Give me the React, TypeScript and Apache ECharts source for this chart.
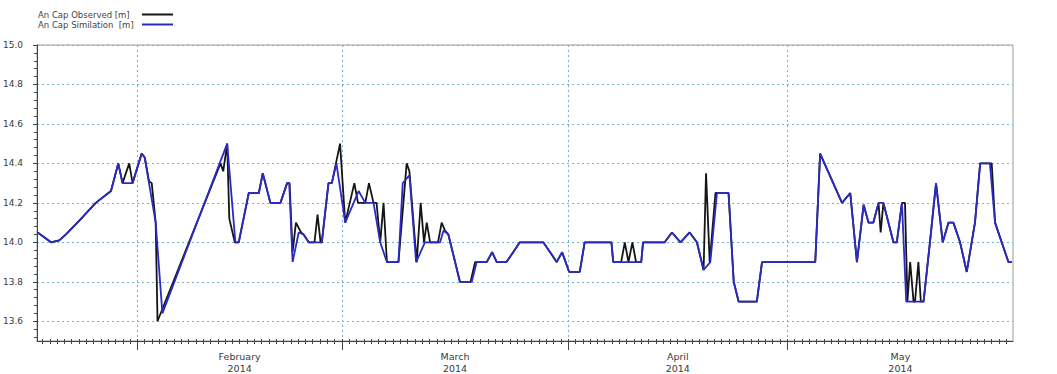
import React, { useEffect, useRef } from 'react';
import * as echarts from 'echarts';

// Water level at An Cap station, observed vs. simulated (metres)
const seriesNames = ['An Cap Observed [m]', 'An Cap Similation  [m]'];

const observed: [string, number][] = [
  ['2014-01-18 08:00', 14.05], ['2014-01-20 04:00', 14.0], ['2014-01-21 07:00', 14.01],
  ['2014-01-22 05:00', 14.04], ['2014-01-24 01:00', 14.11], ['2014-01-26 07:00', 14.2],
  ['2014-01-28 09:00', 14.26], ['2014-01-29 09:00', 14.4], ['2014-01-29 23:00', 14.3],
  ['2014-01-30 21:00', 14.4], ['2014-01-31 08:00', 14.3], ['2014-02-01 14:00', 14.45],
  ['2014-02-02 00:00', 14.43], ['2014-02-02 14:00', 14.31], ['2014-02-02 23:00', 14.3],
  ['2014-02-03 12:00', 14.1], ['2014-02-03 18:00', 13.6], ['2014-02-12 09:00', 14.4],
  ['2014-02-12 18:00', 14.36], ['2014-02-13 07:00', 14.5], ['2014-02-13 14:00', 14.12],
  ['2014-02-14 08:00', 14.0], ['2014-02-14 21:00', 14.0], ['2014-02-16 06:00', 14.25],
  ['2014-02-17 15:00', 14.25], ['2014-02-18 04:00', 14.35], ['2014-02-19 05:00', 14.2],
  ['2014-02-20 14:00', 14.2], ['2014-02-21 12:00', 14.3], ['2014-02-21 20:00', 14.3],
  ['2014-02-22 06:00', 13.95], ['2014-02-22 17:00', 14.1], ['2014-02-23 10:00', 14.05],
  ['2014-02-23 18:00', 14.04], ['2014-02-24 11:00', 14.0], ['2014-02-25 06:00', 14.0],
  ['2014-02-25 16:00', 14.14], ['2014-02-26 02:00', 14.0], ['2014-02-26 06:00', 14.0],
  ['2014-02-27 04:00', 14.3], ['2014-02-27 15:00', 14.3], ['2014-02-28 18:00', 14.5],
  ['2014-03-01 11:00', 14.1], ['2014-03-02 17:00', 14.3], ['2014-03-03 05:00', 14.2],
  ['2014-03-04 05:00', 14.2], ['2014-03-04 17:00', 14.3], ['2014-03-05 08:00', 14.2],
  ['2014-03-05 18:00', 14.2], ['2014-03-06 06:00', 14.0], ['2014-03-06 17:00', 14.2],
  ['2014-03-07 04:00', 13.9], ['2014-03-08 18:00', 13.9], ['2014-03-09 21:00', 14.4],
  ['2014-03-10 06:00', 14.36], ['2014-03-11 06:00', 13.9], ['2014-03-11 19:00', 14.2],
  ['2014-03-12 06:00', 14.0], ['2014-03-12 15:00', 14.1], ['2014-03-13 02:00', 14.0],
  ['2014-03-14 04:00', 14.0], ['2014-03-14 16:00', 14.1], ['2014-03-15 03:00', 14.06],
  ['2014-03-15 14:00', 14.04], ['2014-03-17 04:00', 13.8], ['2014-03-18 15:00', 13.8],
  ['2014-03-19 06:00', 13.9], ['2014-03-20 20:00', 13.9], ['2014-03-21 14:00', 13.95],
  ['2014-03-22 05:00', 13.9], ['2014-03-23 13:00', 13.9], ['2014-03-24 11:00', 13.95],
  ['2014-03-25 09:00', 14.0], ['2014-03-28 14:00', 14.0], ['2014-03-29 17:00', 13.94],
  ['2014-03-30 10:00', 13.9], ['2014-03-31 04:00', 13.95], ['2014-04-01 03:00', 13.85],
  ['2014-04-02 14:00', 13.85], ['2014-04-03 06:00', 14.0], ['2014-04-06 22:00', 14.0],
  ['2014-04-07 04:00', 13.9], ['2014-04-08 06:00', 13.9], ['2014-04-08 18:00', 14.0],
  ['2014-04-09 06:00', 13.9], ['2014-04-09 19:00', 14.0], ['2014-04-10 07:00', 13.9],
  ['2014-04-11 00:00', 13.9], ['2014-04-11 06:00', 14.0], ['2014-04-14 05:00', 14.0],
  ['2014-04-15 05:00', 14.05], ['2014-04-16 09:00', 14.0], ['2014-04-17 15:00', 14.05],
  ['2014-04-18 15:00', 14.0], ['2014-04-19 13:00', 13.86], ['2014-04-19 21:00', 14.35],
  ['2014-04-20 09:00', 13.9], ['2014-04-21 04:00', 14.25], ['2014-04-22 23:00', 14.25],
  ['2014-04-23 16:00', 13.8], ['2014-04-24 08:00', 13.7], ['2014-04-26 20:00', 13.7],
  ['2014-04-27 13:00', 13.9], ['2014-05-04 20:00', 13.9], ['2014-05-05 12:00', 14.45],
  ['2014-05-08 12:00', 14.2], ['2014-05-09 15:00', 14.25], ['2014-05-10 13:00', 13.9],
  ['2014-05-11 11:00', 14.19], ['2014-05-12 03:00', 14.1], ['2014-05-12 19:00', 14.1],
  ['2014-05-13 12:00', 14.2], ['2014-05-13 19:00', 14.05], ['2014-05-14 04:00', 14.2],
  ['2014-05-15 13:00', 14.0], ['2014-05-16 00:00', 14.0], ['2014-05-16 17:00', 14.2],
  ['2014-05-17 03:00', 14.2], ['2014-05-17 11:00', 13.7], ['2014-05-17 20:00', 13.9],
  ['2014-05-18 07:00', 13.7], ['2014-05-18 12:00', 13.7], ['2014-05-18 23:00', 13.9],
  ['2014-05-19 07:00', 13.7], ['2014-05-19 16:00', 13.7], ['2014-05-20 13:00', 14.0],
  ['2014-05-21 09:00', 14.3], ['2014-05-22 07:00', 14.0], ['2014-05-23 02:00', 14.1],
  ['2014-05-23 18:00', 14.1], ['2014-05-24 16:00', 14.0], ['2014-05-25 14:00', 13.85],
  ['2014-05-26 17:00', 14.1], ['2014-05-27 10:00', 14.4], ['2014-05-29 00:00', 14.4],
  ['2014-05-29 11:00', 14.1], ['2014-05-31 07:00', 13.9], ['2014-05-31 18:00', 13.9],
];

const simulation: [string, number][] = [
  ['2014-01-18 08:00', 14.05], ['2014-01-20 04:00', 14.0], ['2014-01-21 07:00', 14.01],
  ['2014-01-22 05:00', 14.04], ['2014-01-24 01:00', 14.11], ['2014-01-26 07:00', 14.2],
  ['2014-01-28 09:00', 14.26], ['2014-01-29 09:00', 14.4], ['2014-01-29 23:00', 14.3],
  ['2014-01-31 08:00', 14.3], ['2014-02-01 14:00', 14.45], ['2014-02-02 00:00', 14.43],
  ['2014-02-02 14:00', 14.3], ['2014-02-03 12:00', 14.1], ['2014-02-04 10:00', 13.64],
  ['2014-02-13 07:00', 14.5], ['2014-02-14 10:00', 14.0], ['2014-02-14 21:00', 14.0],
  ['2014-02-16 06:00', 14.25], ['2014-02-17 15:00', 14.25], ['2014-02-18 04:00', 14.35],
  ['2014-02-19 05:00', 14.2], ['2014-02-20 14:00', 14.2], ['2014-02-21 12:00', 14.3],
  ['2014-02-21 19:00', 14.3], ['2014-02-22 06:00', 13.9], ['2014-02-23 02:00', 14.05],
  ['2014-02-23 18:00', 14.04], ['2014-02-24 11:00', 14.0], ['2014-02-26 06:00', 14.0],
  ['2014-02-27 04:00', 14.3], ['2014-02-27 15:00', 14.3], ['2014-02-28 06:00', 14.4],
  ['2014-03-01 11:00', 14.1], ['2014-03-03 07:00', 14.26], ['2014-03-04 05:00', 14.2],
  ['2014-03-05 08:00', 14.2], ['2014-03-06 06:00', 14.0], ['2014-03-07 04:00', 13.9],
  ['2014-03-08 18:00', 13.9], ['2014-03-09 08:00', 14.3], ['2014-03-10 06:00', 14.34],
  ['2014-03-11 04:00', 13.9], ['2014-03-12 09:00', 14.0], ['2014-03-14 11:00', 14.0],
  ['2014-03-14 22:00', 14.06], ['2014-03-15 14:00', 14.04], ['2014-03-17 04:00', 13.8],
  ['2014-03-18 19:00', 13.8], ['2014-03-19 11:00', 13.9], ['2014-03-20 20:00', 13.9],
  ['2014-03-21 14:00', 13.95], ['2014-03-22 05:00', 13.9], ['2014-03-23 13:00', 13.9],
  ['2014-03-24 11:00', 13.95], ['2014-03-25 09:00', 14.0], ['2014-03-28 14:00', 14.0],
  ['2014-03-29 17:00', 13.94], ['2014-03-30 10:00', 13.9], ['2014-03-31 04:00', 13.95],
  ['2014-04-01 03:00', 13.85], ['2014-04-02 14:00', 13.85], ['2014-04-03 06:00', 14.0],
  ['2014-04-06 22:00', 14.0], ['2014-04-07 04:00', 13.9], ['2014-04-11 00:00', 13.9],
  ['2014-04-11 06:00', 14.0], ['2014-04-14 05:00', 14.0], ['2014-04-15 05:00', 14.05],
  ['2014-04-16 09:00', 14.0], ['2014-04-17 15:00', 14.05], ['2014-04-18 15:00', 14.0],
  ['2014-04-19 13:00', 13.86], ['2014-04-20 11:00', 13.9], ['2014-04-21 09:00', 14.25],
  ['2014-04-22 23:00', 14.25], ['2014-04-23 16:00', 13.8], ['2014-04-24 08:00', 13.7],
  ['2014-04-26 20:00', 13.7], ['2014-04-27 13:00', 13.9], ['2014-05-04 20:00', 13.9],
  ['2014-05-05 12:00', 14.45], ['2014-05-08 12:00', 14.2], ['2014-05-09 15:00', 14.25],
  ['2014-05-10 13:00', 13.9], ['2014-05-11 11:00', 14.19], ['2014-05-12 03:00', 14.1],
  ['2014-05-12 19:00', 14.1], ['2014-05-13 12:00', 14.2], ['2014-05-14 04:00', 14.2],
  ['2014-05-15 13:00', 14.0], ['2014-05-16 00:00', 14.0], ['2014-05-16 17:00', 14.2],
  ['2014-05-17 07:00', 13.7], ['2014-05-19 16:00', 13.7], ['2014-05-20 13:00', 14.0],
  ['2014-05-21 09:00', 14.3], ['2014-05-22 07:00', 14.0], ['2014-05-23 02:00', 14.1],
  ['2014-05-23 18:00', 14.1], ['2014-05-24 16:00', 14.0], ['2014-05-25 14:00', 13.85],
  ['2014-05-26 17:00', 14.1], ['2014-05-27 10:00', 14.4], ['2014-05-28 18:00', 14.4],
  ['2014-05-29 11:00', 14.1], ['2014-05-31 07:00', 13.9], ['2014-05-31 18:00', 13.9],
];

// Axis ranges and tick labels
const timeMin = '2014-01-18 06:00';
const timeMax = '2014-05-31 22:00';
const levelMin = 13.5;
const levelMax = 15.0;
const levelTicks = [13.6, 13.8, 14.0, 14.2, 14.4, 14.6, 14.8, 15.0];
const levelMinorTicks = [
  13.52, 13.56, 13.64, 13.68, 13.72, 13.76, 13.84, 13.88, 13.92, 13.96, 14.04, 14.08, 14.12,
  14.16, 14.24, 14.28, 14.32, 14.36, 14.44, 14.48, 14.52, 14.56, 14.64, 14.68, 14.72, 14.76,
  14.84, 14.88, 14.92, 14.96,
];
const monthStarts = ['2014-02-01 00:00', '2014-03-01 00:00', '2014-04-01 00:00', '2014-05-01 00:00'];
const monthLabelTimes = ['2014-02-15 00:00', '2014-03-16 12:00', '2014-04-16 00:00', '2014-05-16 12:00'];
const monthLabels = ['February\n2014', 'March\n2014', 'April\n2014', 'May\n2014'];

const FONT = 'DejaVu Sans, Arial, sans-serif';
const GRID_COLOR = '#78b0cc';
const AXIS_COLOR = '#444';
const OBS_COLOR = '#151515';
const SIM_COLOR = '#2a2ac4';

// "YYYY-MM-DD HH:mm" in local time -> epoch milliseconds
function stamp(s: string): number {
  const [d, t] = s.split(' ');
  const [y, m, day] = d.split('-').map(Number);
  const [h, mi] = (t || '00:00').split(':').map(Number);
  return new Date(y, m - 1, day, h, mi).getTime();
}

function dailyTicks(start: number, end: number): number[] {
  const out: number[] = [];
  for (let d = 1; d < 200; d++) {
    const t = new Date(2014, 0, d).getTime();
    if (t > start && t < end) out.push(t);
  }
  return out;
}

export default function App() {
  const ref = useRef<HTMLDivElement>(null);

  useEffect(() => {
    if (!ref.current) return;
    const chart = echarts.init(ref.current, undefined, { renderer: 'svg' });
    const xMin = stamp(timeMin);
    const xMax = stamp(timeMax);
    const labelStamps = monthLabelTimes.map(stamp);
    const days = dailyTicks(xMin, xMax);
    const toPoints = (rows: [string, number][]) => rows.map(([t, v]) => [stamp(t), v]);

    const baseX = {
      type: 'value' as const,
      min: xMin,
      max: xMax,
      gridIndex: 0,
      position: 'bottom' as const,
      axisLine: { onZero: false, show: false },
      axisLabel: { show: false },
      splitLine: { show: false },
    };

    chart.setOption({
      animation: false,
      backgroundColor: '#ffffff',
      textStyle: { fontFamily: FONT },
      legend: {
        data: seriesNames.map((name) => ({ name, icon: 'rect' })),
        orient: 'vertical',
        left: 38,
        top: 10,
        padding: 0,
        align: 'right',
        itemWidth: 31,
        itemHeight: 2,
        itemGap: 1,
        formatter: (name: string) => `{n|${name}}`,
        textStyle: {
          fontSize: 8.5,
          color: '#444',
          fontFamily: FONT,
          rich: {
            n: { width: 99, align: 'left', fontSize: 8.5, lineHeight: 10, color: '#444', fontFamily: FONT },
          },
        },
      },
      grid: {
        left: 35,
        right: 44,
        top: 45,
        bottom: 32,
        show: true,
        borderColor: '#9a9a9a',
        borderWidth: 1,
        backgroundColor: '#ffffff',
      },
      xAxis: [
        {
          ...baseX,
          axisLine: { onZero: false, show: true, lineStyle: { color: AXIS_COLOR, width: 1 } },
          axisTick: {
            show: true,
            customValues: monthStarts.map(stamp),
            length: 9,
            lineStyle: { color: AXIS_COLOR },
          },
          axisLabel: {
            show: true,
            customValues: labelStamps,
            margin: 9,
            fontSize: 9.5,
            lineHeight: 12,
            color: '#3a3a3a',
            fontFamily: FONT,
            formatter: (val: number) => {
              const i = labelStamps.findIndex((t) => Math.abs(t - val) < 3600000);
              return i >= 0 ? monthLabels[i] : '';
            },
          },
          splitLine: { show: true, lineStyle: { color: GRID_COLOR, type: [2, 3], width: 1 } },
        },
        {
          ...baseX,
          axisTick: { show: true, customValues: days, length: 3, lineStyle: { color: AXIS_COLOR } },
        },
        {
          ...baseX,
          axisTick: {
            show: true,
            inside: true,
            customValues: days,
            length: 2,
            lineStyle: { color: AXIS_COLOR },
          },
        },
      ],
      yAxis: [
        {
          type: 'value',
          min: levelMin,
          max: levelMax,
          position: 'left',
          axisLine: { show: true, onZero: false, lineStyle: { color: AXIS_COLOR } },
          axisTick: { show: true, customValues: levelTicks, length: 4, lineStyle: { color: AXIS_COLOR } },
          axisLabel: {
            customValues: levelTicks,
            margin: 14,
            fontSize: 9,
            color: '#3a3a3a',
            fontFamily: FONT,
            formatter: (v: number) => v.toFixed(1),
          },
          splitLine: { show: true, lineStyle: { color: GRID_COLOR, type: [2, 3], width: 1 } },
        },
        {
          type: 'value',
          min: levelMin,
          max: levelMax,
          position: 'left',
          axisLine: { show: false, onZero: false },
          axisTick: {
            show: true,
            customValues: levelMinorTicks,
            length: 3,
            lineStyle: { color: AXIS_COLOR },
          },
          axisLabel: { show: false },
          splitLine: { show: false },
        },
      ],
      series: [
        {
          name: seriesNames[0],
          type: 'line',
          data: toPoints(observed),
          symbol: 'none',
          showSymbol: false,
          color: OBS_COLOR,
          lineStyle: { color: OBS_COLOR, width: 1.8 },
          z: 2,
        },
        {
          name: seriesNames[1],
          type: 'line',
          data: toPoints(simulation),
          symbol: 'none',
          showSymbol: false,
          color: SIM_COLOR,
          lineStyle: { color: SIM_COLOR, width: 1.8 },
          z: 3,
        },
      ],
    });

    return () => chart.dispose();
  }, []);

  return (
    <div
      ref={ref}
      style={{ position: 'fixed', left: 0, top: 0, width: 1057, height: 374 }}
    />
  );
}
